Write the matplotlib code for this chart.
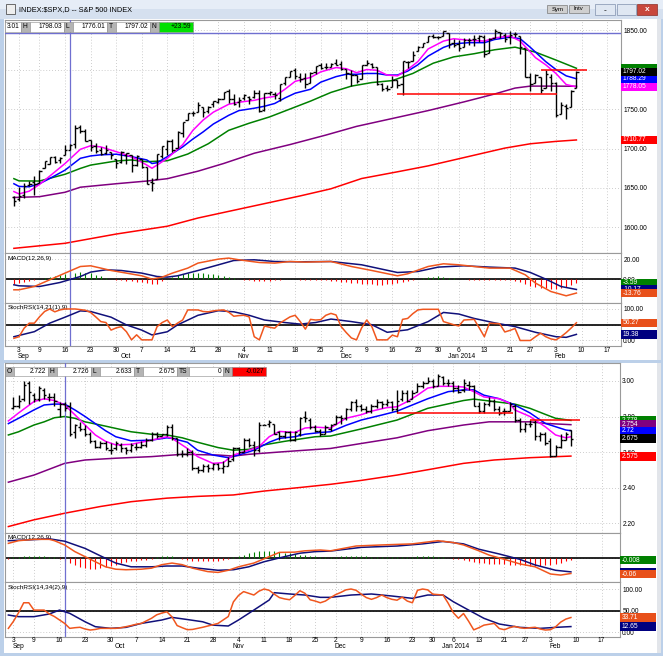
import numpy as np
import matplotlib
matplotlib.use('Agg')
import matplotlib.pyplot as plt
import matplotlib.transforms as mtransforms
from matplotlib.patches import Rectangle
from matplotlib.ticker import FuncFormatter

plt.rcParams['font.family'] = ['Liberation Sans', 'DejaVu Sans']

# trading-day index, 0 = Sep 3 2013
week_idx = [0, 4, 9, 14, 19, 24, 29, 34, 39, 44, 49, 54, 59, 63, 68, 73, 78, 82, 86, 91, 96, 100, 105, 110, 115]
week_lbl = ['3', '9', '16', '23', '30', '7', '14', '21', '28', '4', '11', '18', '25',
            '2', '9', '16', '23', '30', '6', '13', '21', '27', '3', '10', '17']
month_idx = [0, 20, 43, 63, 84, 105]
month_lbl = ['Sep', 'Oct', 'Nov', 'Dec', 'Jan 2014', 'Feb']

# ---------------- S&P 500 (Aug 30 2013 .. Feb 7 2014) ----------------
spx_open = [1638.9, 1635.9, 1640.7, 1653.3, 1657.4, 1656.9, 1675.1, 1681.0, 1689.2, 1685.0,
            1691.7, 1697.7, 1705.7, 1727.3, 1722.4, 1711.4, 1702.6, 1698.0, 1694.1, 1695.5,
            1687.3, 1682.4, 1691.9, 1692.4, 1678.8, 1687.2, 1676.2, 1657.0, 1660.9, 1691.1,
            1699.9, 1709.2, 1700.5, 1720.2, 1736.7, 1745.2, 1746.5, 1752.3, 1747.5, 1756.0,
            1759.4, 1762.9, 1772.3, 1763.2, 1758.7, 1763.4, 1765.7, 1765.0, 1770.7, 1748.4,
            1770.0, 1769.5, 1764.4, 1782.8, 1790.7, 1798.8, 1790.8, 1789.6, 1783.5, 1797.2,
            1806.3, 1802.9, 1803.5, 1808.0, 1806.6, 1800.1, 1794.1, 1792.8, 1788.4, 1806.2,
            1807.6, 1802.8, 1781.7, 1777.0, 1777.5, 1786.5, 1781.5, 1809.0, 1810.4, 1822.9,
            1828.0, 1835.0, 1843.0, 1841.5, 1842.6, 1845.9, 1833.2, 1832.3, 1828.7, 1837.9,
            1839.0, 1840.1, 1841.3, 1821.4, 1840.5, 1848.0, 1844.2, 1841.1, 1844.7, 1842.3,
            1827.0, 1791.0, 1783.0, 1790.2, 1777.2, 1790.9, 1782.7, 1743.8, 1753.4, 1753.0,
            1776.0]
spx_high = [1640.1, 1651.3, 1655.7, 1659.2, 1664.8, 1672.4, 1684.1, 1689.1, 1690.0, 1688.7,
            1705.0, 1705.5, 1729.4, 1729.9, 1725.2, 1711.4, 1707.6, 1701.7, 1703.9, 1695.5,
            1687.3, 1696.6, 1693.9, 1692.4, 1691.9, 1687.2, 1676.8, 1662.5, 1692.6, 1703.4,
            1711.0, 1711.6, 1721.8, 1733.4, 1745.3, 1747.8, 1759.3, 1752.3, 1753.9, 1759.8,
            1764.0, 1772.1, 1775.2, 1768.5, 1765.7, 1768.8, 1767.0, 1773.7, 1774.5, 1770.8,
            1773.4, 1771.8, 1782.0, 1791.0, 1798.2, 1802.3, 1795.5, 1795.7, 1797.2, 1804.8,
            1808.1, 1808.4, 1808.3, 1813.6, 1811.0, 1800.1, 1799.8, 1792.8, 1806.0, 1811.5,
            1808.5, 1803.0, 1783.0, 1780.9, 1792.2, 1786.8, 1811.1, 1810.9, 1823.8, 1829.8,
            1833.3, 1842.8, 1844.9, 1842.5, 1849.4, 1845.9, 1838.2, 1837.2, 1840.1, 1840.0,
            1843.2, 1843.2, 1843.5, 1839.3, 1850.8, 1848.0, 1846.0, 1849.3, 1846.9, 1842.3,
            1827.0, 1796.0, 1793.9, 1790.2, 1798.8, 1793.9, 1784.8, 1758.7, 1755.8, 1774.1,
            1798.0]
spx_low = [1627.5, 1633.4, 1637.4, 1653.1, 1640.6, 1656.9, 1675.1, 1681.0, 1682.0, 1682.2,
           1691.7, 1697.7, 1700.4, 1720.2, 1708.9, 1697.1, 1694.9, 1691.9, 1693.1, 1687.1,
           1675.0, 1682.1, 1680.3, 1670.4, 1677.3, 1674.7, 1655.0, 1646.5, 1660.9, 1688.5,
           1692.1, 1695.9, 1700.5, 1714.1, 1735.7, 1740.7, 1746.5, 1740.5, 1745.5, 1752.5,
           1757.7, 1762.9, 1757.2, 1755.7, 1752.7, 1761.1, 1755.8, 1764.4, 1746.2, 1747.6,
           1767.8, 1762.3, 1760.6, 1780.2, 1790.7, 1788.4, 1784.7, 1777.2, 1783.5, 1794.7,
           1800.6, 1800.8, 1802.8, 1805.8, 1799.8, 1787.9, 1779.1, 1783.4, 1788.4, 1806.2,
           1801.4, 1780.1, 1772.3, 1772.5, 1777.5, 1777.2, 1768.0, 1801.3, 1810.4, 1822.9,
           1828.0, 1835.0, 1839.8, 1838.8, 1842.4, 1827.7, 1829.1, 1823.7, 1828.7, 1831.4,
           1830.4, 1834.7, 1815.5, 1821.4, 1840.5, 1840.3, 1835.2, 1832.4, 1840.9, 1820.1,
           1790.3, 1772.9, 1783.0, 1770.5, 1777.2, 1772.3, 1739.7, 1743.8, 1737.9, 1753.0,
           1776.0]
spx_close = [1633.0, 1639.8, 1653.1, 1655.1, 1655.2, 1671.7, 1684.0, 1689.1, 1683.4, 1688.0,
             1697.6, 1704.8, 1725.5, 1722.3, 1709.9, 1701.8, 1697.4, 1692.8, 1698.7, 1691.8,
             1681.6, 1695.0, 1693.9, 1678.7, 1690.5, 1676.1, 1655.5, 1656.4, 1692.6, 1703.2,
             1710.1, 1698.1, 1721.5, 1733.2, 1744.5, 1744.7, 1754.7, 1746.4, 1752.1, 1759.8,
             1762.1, 1772.0, 1763.3, 1756.5, 1761.6, 1767.9, 1763.0, 1770.5, 1747.2, 1770.6,
             1771.9, 1767.7, 1782.0, 1790.6, 1798.2, 1791.5, 1787.9, 1781.4, 1795.9, 1804.8,
             1802.5, 1802.8, 1807.2, 1805.8, 1800.9, 1795.2, 1792.8, 1785.0, 1805.1, 1808.4,
             1802.6, 1782.2, 1775.5, 1775.3, 1786.5, 1781.0, 1810.7, 1809.6, 1818.3, 1828.0,
             1833.3, 1842.0, 1841.4, 1841.1, 1848.4, 1832.0, 1831.4, 1826.8, 1837.9, 1837.5,
             1838.1, 1842.4, 1819.2, 1838.9, 1848.4, 1845.9, 1838.7, 1843.8, 1844.9, 1828.5,
             1790.3, 1781.6, 1792.5, 1774.2, 1794.2, 1782.6, 1741.9, 1755.2, 1751.6, 1773.4,
             1797.0]
spx_idx = np.arange(-1, 110)

# moving averages (index, value)
spx_pink_i = [-1, 0, 2, 4, 6, 9, 12, 14, 16, 19, 22, 25, 26, 27, 29, 32, 34, 36, 38, 41, 43, 46, 48, 50,
              52, 54, 57, 59, 62, 64, 66, 68, 70, 72, 74, 76, 78, 80, 83, 85, 88, 91, 93, 96, 98, 100,
              101, 103, 105, 107, 109]
spx_pink = [1645.5, 1642.5, 1646, 1654.5, 1665, 1681, 1699, 1703.5, 1702, 1696, 1689.7, 1679, 1675,
            1679, 1687.6, 1704.8, 1723, 1736, 1746, 1756, 1758.6, 1761, 1764, 1766, 1775, 1785, 1790,
            1797, 1802.5, 1801, 1796, 1800, 1799, 1793, 1792, 1800, 1810, 1826, 1836, 1839, 1837,
            1836, 1840, 1842.5, 1836, 1822, 1815, 1806, 1795, 1781, 1778]
spx_blue = [1655.4, 1652, 1651.5, 1655.4, 1662, 1672.6, 1687.6, 1690.6, 1692, 1692.8, 1689.7, 1685.5,
            1681, 1682, 1689.7, 1702, 1712, 1721, 1731, 1742, 1748, 1751, 1753.5, 1757, 1764, 1770,
            1775, 1784, 1791, 1794, 1794, 1795, 1795, 1793, 1793, 1798, 1806, 1817, 1828, 1832.6,
            1834, 1834, 1838, 1841, 1839, 1828, 1822, 1810, 1800, 1792, 1788.3]
spx_green_i = [-1, 0, 4, 9, 12, 14, 19, 22, 25, 29, 33, 37, 41, 45, 49, 53, 57, 61, 65, 69, 73, 77,
               81, 85, 89, 93, 97, 101, 105, 109]
spx_green = [1661.8, 1659, 1658.8, 1667.4, 1674.8, 1679, 1684.2, 1685.5, 1683.3, 1684.5, 1693, 1706,
             1723, 1732, 1740, 1750, 1760, 1771, 1779, 1783.5, 1786, 1795, 1808, 1816, 1820, 1825,
             1828.3, 1822, 1812, 1801.6]
spx_purple_i = [-1, 4, 9, 12, 19, 25, 29, 35, 40, 46, 53, 60, 66, 73, 80, 87, 93, 97, 100, 104, 109]
spx_purple = [1638, 1639, 1644.6, 1651, 1655.4, 1658.8, 1661.8, 1671.3, 1681, 1694, 1705, 1717, 1728,
              1738, 1748, 1759, 1769, 1776.5, 1779, 1779, 1778.8]
spx_red_i = [-1, 9, 19, 29, 35, 45, 55, 61, 67, 74, 80, 85, 90, 95, 100, 105, 109]
spx_red = [1573.6, 1580, 1591.7, 1601.6, 1612, 1626, 1640, 1649, 1662, 1670.5, 1678, 1685.5, 1693,
           1700.5, 1706, 1709, 1710.8]

# drawn lines: (level, from index, to index)
spx_blue_level = 1846.6
spx_red_levels = [(1768.6, 74, 105.2), (1799.4, 102, 111)]
marker_idx = 10

# MACD(12,26,9)
spx_macd_i = [-1, 0, 3, 6, 9, 12, 14, 16, 18, 21, 24, 26, 28, 30, 33, 35, 39, 41, 43, 47, 50, 53, 56,
              61, 65, 69, 74, 76, 80, 83, 86, 89, 92, 96, 99, 101, 104, 107, 109]
spx_macd = [-10.5, -10.5, -7.2, -0.5, 6.2, 12.8, 13.5, 11.2, 8.8, 6.2, 3.5, 0.2, 2.2, 6.2, 11.2, 16.2,
            20.2, 21.2, 19.5, 16.8, 16.2, 17.8, 17.2, 17.8, 12.8, 8.8, 3.5, 5.5, 12.8, 15.5, 14.5,
            12.8, 11.2, 11.2, 4.5, -3.8, -12.2, -16.5, -13.76]
spx_sig_i = [-1, 0, 4, 8, 12, 14, 17, 20, 24, 27, 29, 31, 35, 39, 42, 46, 50, 55, 61, 67, 74, 78, 82,
             87, 92, 97, 100, 103, 106, 109]
spx_sig = [-5.5, -6.5, -7.2, -3.2, 2.8, 7.2, 9.5, 8.8, 6.2, 2.8, 2.2, 3.5, 8.8, 14.5, 18.8, 19.5, 17.8,
           17.5, 17.8, 14.5, 6.8, 7.8, 12.2, 13.5, 12.2, 11.2, 6.8, 0.2, -7.2, -10.17]
spx_hist = [-4.5, -4, -3, -2, -1, 0.5, 1.5, 2.5, 3.5, 4.5, 5.5, 6, 6.5, 7, 6.5, 6, 4.5, 3, 1.5, 0.5,
            -0.5, -1, -1.5, -2, -2.5, -3, -4, -5, -4.5, -2, 0.5, 2.5, 4, 5, 6, 6.5, 6.5, 6, 5.5, 5,
            4, 3, 2, 1, 0.5, -0.5, -1, -1.5, -2, -2, -1.5, -1, -0.5, 0, 0.3, 0, -0.5, -1, -1, -0.5,
            -0.5, -1, -1.5, -2, -2.5, -3, -3.5, -4, -4.5, -5, -5, -5.5, -5.5, -5, -4.5, -4, -2.5,
            -1.5, -0.5, 0.5, 1.5, 2, 2.5, 3, 2.5, 1.5, 1, 0.5, 0, -0.3, -0.5, -1, -1, -0.5, -0.5,
            -0.3, -0.5, -1, -1.5, -3, -5, -7, -8, -8.5, -9, -9.5, -9.5, -9, -8, -6, -3.59]

# StochRSI(14,21(1),9)
spx_stoch = [7, 12, 39, 55, 55, 75, 92, 100, 91, 97, 100, 100, 100, 98, 96, 89, 75, 60, 57, 33, 40,
             44, 28, 2, 18, 2, 2, 2, 44, 57, 65, 44, 55, 65, 97, 97, 97, 92, 91, 94, 96, 97, 90, 77,
             79, 80, 75, 12, 2, 46, 42, 39, 55, 65, 75, 80, 60, 36, 67, 65, 66, 80, 86, 81, 44, 25,
             8, 2, 40, 65, 44, 2, 2, 2, 17, 12, 67, 70, 85, 97, 99, 99, 99, 99, 60, 55, 50, 46, 65,
             66, 67, 40, 12, 55, 54, 53, 27, 32, 38, 0, 0, 0, 12, 23, 12, 5, 2, 12, 25, 40, 56.27]
spx_stsig_i = [-1, 3, 6, 9, 12, 14, 18, 21, 24, 26, 29, 31, 35, 39, 42, 45, 48, 52, 55, 58, 61, 65,
               69, 72, 76, 80, 83, 86, 89, 93, 97, 101, 105, 107, 109]
spx_stsig = [12, 28, 55, 74, 94, 92, 74, 49.5, 33, 17.6, 27.7, 49.5, 80, 94.6, 91, 80, 65, 57, 52, 57,
             68, 60, 50, 26, 34, 60, 89, 84, 70, 56, 44, 26, 12, 10, 19.38]

# ---------------- 10-year yield (Sep 3 2013 .. Feb 7 2014) ----------------
tnx_open = [2.85, 2.86, 2.90, 2.99, 2.92, 2.90, 2.95, 2.91, 2.91, 2.84,
            2.87, 2.86, 2.71, 2.74, 2.73, 2.70, 2.66, 2.63, 2.65, 2.61,
            2.62, 2.64, 2.62, 2.61, 2.63, 2.63, 2.64, 2.67, 2.70, 2.69,
            2.70, 2.74, 2.68, 2.59, 2.59, 2.60, 2.51, 2.50, 2.52, 2.51,
            2.53, 2.51, 2.52, 2.56, 2.62, 2.60, 2.67, 2.64, 2.61, 2.75,
            2.76, 2.76, 2.71, 2.69, 2.71, 2.67, 2.70, 2.80, 2.78, 2.74,
            2.72, 2.70, 2.73, 2.76, 2.80, 2.79, 2.84, 2.88, 2.86, 2.84,
            2.83, 2.86, 2.88, 2.87, 2.88, 2.84, 2.90, 2.93, 2.90, 2.94,
            2.97, 2.99, 3.00, 2.97, 3.02, 2.99, 2.99, 2.96, 2.95, 2.98,
            2.97, 2.86, 2.83, 2.87, 2.89, 2.84, 2.83, 2.83, 2.86, 2.78,
            2.73, 2.76, 2.77, 2.69, 2.70, 2.66, 2.58, 2.63, 2.67, 2.722]
tnx_high = [2.91, 2.92, 3.00, 3.00, 2.93, 2.97, 2.96, 2.93, 2.93, 2.88,
            2.88, 2.88, 2.76, 2.77, 2.75, 2.71, 2.67, 2.66, 2.66, 2.65,
            2.66, 2.65, 2.63, 2.65, 2.65, 2.66, 2.68, 2.71, 2.71, 2.70,
            2.75, 2.76, 2.68, 2.61, 2.62, 2.61, 2.52, 2.53, 2.53, 2.54,
            2.54, 2.55, 2.57, 2.63, 2.63, 2.68, 2.68, 2.66, 2.77, 2.76,
            2.78, 2.76, 2.72, 2.72, 2.72, 2.72, 2.80, 2.83, 2.79, 2.75,
            2.73, 2.75, 2.76, 2.81, 2.81, 2.85, 2.89, 2.90, 2.87, 2.86,
            2.87, 2.90, 2.89, 2.90, 2.89, 2.95, 2.95, 2.95, 2.95, 2.99,
            3.00, 3.02, 3.01, 3.04, 3.03, 3.01, 3.00, 2.98, 3.01, 3.00,
            2.98, 2.88, 2.88, 2.91, 2.90, 2.86, 2.85, 2.88, 2.87, 2.79,
            2.77, 2.78, 2.78, 2.71, 2.71, 2.68, 2.64, 2.70, 2.71, 2.726]
tnx_low = [2.84, 2.85, 2.89, 2.87, 2.88, 2.89, 2.90, 2.89, 2.86, 2.80,
           2.83, 2.69, 2.68, 2.72, 2.69, 2.65, 2.62, 2.62, 2.61, 2.59,
           2.61, 2.60, 2.59, 2.60, 2.61, 2.62, 2.63, 2.66, 2.68, 2.69,
           2.69, 2.67, 2.58, 2.57, 2.58, 2.50, 2.48, 2.49, 2.49, 2.50,
           2.50, 2.48, 2.52, 2.55, 2.59, 2.60, 2.63, 2.58, 2.60, 2.75,
           2.74, 2.70, 2.67, 2.68, 2.66, 2.66, 2.69, 2.77, 2.73, 2.71,
           2.69, 2.70, 2.72, 2.76, 2.76, 2.78, 2.83, 2.83, 2.83, 2.82,
           2.82, 2.85, 2.85, 2.86, 2.83, 2.82, 2.89, 2.88, 2.90, 2.94,
           2.96, 2.99, 2.96, 2.97, 2.98, 2.97, 2.94, 2.93, 2.94, 2.95,
           2.86, 2.82, 2.82, 2.86, 2.83, 2.81, 2.81, 2.83, 2.77, 2.71,
           2.71, 2.74, 2.67, 2.66, 2.64, 2.57, 2.58, 2.62, 2.67, 2.633]
tnx_close = [2.86, 2.89, 2.98, 2.94, 2.90, 2.96, 2.92, 2.91, 2.89, 2.87,
             2.85, 2.70, 2.75, 2.73, 2.70, 2.66, 2.63, 2.65, 2.62, 2.61,
             2.65, 2.62, 2.61, 2.64, 2.63, 2.64, 2.67, 2.70, 2.69, 2.70,
             2.74, 2.68, 2.59, 2.59, 2.60, 2.51, 2.50, 2.52, 2.51, 2.53,
             2.51, 2.52, 2.55, 2.62, 2.60, 2.67, 2.64, 2.61, 2.75, 2.75,
             2.77, 2.70, 2.69, 2.71, 2.67, 2.71, 2.79, 2.79, 2.74, 2.72,
             2.70, 2.74, 2.75, 2.80, 2.79, 2.84, 2.88, 2.86, 2.84, 2.83,
             2.86, 2.88, 2.87, 2.88, 2.84, 2.89, 2.93, 2.89, 2.93, 2.97,
             2.99, 3.00, 2.97, 3.03, 2.99, 2.99, 2.96, 2.94, 2.99, 2.97,
             2.86, 2.83, 2.87, 2.89, 2.84, 2.82, 2.83, 2.87, 2.78, 2.73,
             2.76, 2.76, 2.69, 2.70, 2.65, 2.58, 2.63, 2.67, 2.70, 2.675]
tnx_idx = np.arange(0, 110)

tnx_pink_i = [-1, 1, 4, 6, 8, 10, 12, 14, 16, 18, 20, 23, 25, 28, 30, 31, 34, 36, 39, 41, 43, 46, 48,
              50, 52, 55, 57, 59, 62, 65, 68, 70, 73, 75, 77, 79, 81, 83, 86, 88, 90, 92, 95, 97, 98,
              101, 104, 106, 108, 109]
tnx_pink = [2.775, 2.82, 2.884, 2.90, 2.89, 2.865, 2.81, 2.752, 2.696, 2.66, 2.64, 2.643, 2.655, 2.673,
            2.686, 2.677, 2.62, 2.574, 2.536, 2.54, 2.583, 2.61, 2.63, 2.686, 2.716, 2.71, 2.735,
            2.74, 2.735, 2.79, 2.81, 2.83, 2.85, 2.855, 2.884, 2.92, 2.96, 2.97, 2.97, 2.966, 2.94,
            2.91, 2.90, 2.875, 2.837, 2.80, 2.742, 2.696, 2.68, 2.686]
tnx_blue_i = [-1, 1, 4, 6, 8, 10, 12, 14, 16, 18, 20, 23, 27, 30, 31, 34, 36, 39, 42, 44, 47, 50, 52,
              55, 57, 60, 62, 65, 68, 72, 75, 78, 81, 85, 88, 90, 92, 95, 98, 101, 104, 108, 109]
tnx_blue = [2.76, 2.79, 2.837, 2.865, 2.87, 2.87, 2.837, 2.80, 2.76, 2.72, 2.686, 2.663, 2.667, 2.68,
            2.677, 2.655, 2.61, 2.583, 2.568, 2.583, 2.61, 2.655, 2.677, 2.686, 2.70, 2.71, 2.714,
            2.75, 2.78, 2.808, 2.83, 2.865, 2.90, 2.94, 2.95, 2.95, 2.92, 2.90, 2.865, 2.82, 2.761,
            2.724, 2.72]
tnx_green_i = [-1, 1, 4, 6, 8, 10, 12, 14, 17, 20, 23, 27, 30, 33, 36, 40, 43, 46, 49, 53, 56, 59, 62,
               68, 75, 81, 88, 90, 94, 98, 101, 104, 106, 109]
tnx_green = [2.696, 2.714, 2.752, 2.77, 2.793, 2.80, 2.79, 2.77, 2.752, 2.733, 2.714, 2.70, 2.696,
             2.68, 2.655, 2.625, 2.61, 2.615, 2.64, 2.66, 2.673, 2.686, 2.69, 2.73, 2.78, 2.846, 2.89,
             2.898, 2.884, 2.87, 2.846, 2.812, 2.79, 2.778]
tnx_purple_i = [-1, 4, 10, 14, 20, 27, 33, 40, 43, 46, 53, 62, 68, 75, 81, 88, 93, 97, 101, 104, 109]
tnx_purple = [2.43, 2.47, 2.536, 2.555, 2.565, 2.574, 2.587, 2.583, 2.577, 2.587, 2.602, 2.62, 2.648,
              2.68, 2.72, 2.752, 2.77, 2.77, 2.77, 2.761, 2.754]
tnx_red_i = [-1, 4, 10, 17, 23, 30, 36, 43, 49, 56, 62, 68, 75, 81, 88, 94, 101, 109]
tnx_red = [2.18, 2.218, 2.255, 2.293, 2.32, 2.34, 2.35, 2.358, 2.38, 2.40, 2.418, 2.44, 2.47, 2.50,
           2.536, 2.555, 2.568, 2.577]
tnx_red_levels = [(2.82, 75, 97.7), (2.78, 101, 110.8)]

tnx_macd_i = [-1, 1, 4, 7, 8, 10, 12, 14, 16, 18, 20, 22, 25, 27, 29, 31, 33, 35, 38, 40, 42, 44, 47,
              50, 52, 55, 57, 60, 62, 67, 72, 78, 83, 86, 88, 91, 93, 96, 99, 102, 105, 107, 109]
tnx_macd = [0.055, 0.065, 0.07, 0.07, 0.065, 0.049, 0.024, 0.005, -0.014, -0.033, -0.042, -0.044,
            -0.042, -0.038, -0.025, -0.019, -0.025, -0.038, -0.051, -0.054, -0.046, -0.033, -0.019,
            0.005, 0.021, 0.022, 0.027, 0.03, 0.027, 0.045, 0.049, 0.053, 0.065, 0.058, 0.049,
            0.027, 0.011, -0.005, -0.022, -0.033, -0.06, -0.064, -0.058]
tnx_sig_i = [-1, 3, 7, 10, 14, 17, 20, 23, 27, 30, 33, 36, 40, 43, 46, 49, 53, 56, 59, 62, 68, 75, 80,
             84, 88, 91, 95, 99, 102, 106, 109]
tnx_sig = [0.065, 0.068, 0.072, 0.063, 0.036, 0.008, -0.019, -0.033, -0.033, -0.03, -0.03, -0.038,
           -0.046, -0.044, -0.033, -0.014, 0.005, 0.018, 0.024, 0.026, 0.04, 0.045, 0.053, 0.062,
           0.053, 0.033, 0.015, -0.005, -0.026, -0.046, -0.052]
tnx_hist = [-0.005, 0.002, 0.005, 0.007, 0.008, 0.007, 0.006, 0.007, 0.005, 0.002, -0.005, -0.012,
            -0.02, -0.028, -0.034, -0.038, -0.04, -0.04, -0.038, -0.034, -0.03, -0.025, -0.02,
            -0.016, -0.013, -0.011, -0.009, -0.006, -0.002, 0.003, 0.007, 0.009, 0.006, 0.001,
            -0.004, -0.008, -0.012, -0.013, -0.012, -0.012, -0.011, -0.01, -0.007, -0.003, 0.003,
            0.008, 0.013, 0.017, 0.021, 0.025, 0.027, 0.028, 0.027, 0.024, 0.02, 0.017, 0.014,
            0.012, 0.011, 0.009, 0.007, 0.005, 0.004, 0.003, 0.004, 0.006, 0.008, 0.009, 0.008,
            0.007, 0.006, 0.005, 0.005, 0.004, 0.004, 0.003, 0.004, 0.005, 0.005, 0.005, 0.006,
            0.006, 0.007, 0.006, 0.005, 0.003, 0.001, -0.002, -0.004, -0.007, -0.01, -0.014,
            -0.017, -0.019, -0.021, -0.022, -0.023, -0.024, -0.025, -0.026, -0.027, -0.028,
            -0.029, -0.029, -0.029, -0.028, -0.027, -0.023, -0.018, -0.013, -0.008]

tnx_stoch = [8.5, 25, 45, 68, 68, 51, 51, 51, 42, 36, 28, 20, 8.5, 10, 11, 7, 4.6, 6, 8.5, 8.5, 8.5,
             8.5, 10, 12.4, 15, 18, 20, 26, 32, 40, 44, 47, 35, 15, 10, 5.4, 6, 8.5, 11, 14, 17, 20,
             28, 36, 70, 85, 94, 90, 86, 95, 100, 97, 88, 80, 77, 75, 85, 96, 90, 75, 72, 68, 72, 80,
             87, 92, 98, 100, 97, 88, 80, 76, 80, 86, 80, 76, 74, 81, 72, 68, 97, 100, 98, 88, 87,
             86, 67, 45, 32, 43, 25, 5, 10, 16, 18, 20, 8, 5.4, 10, 13, 10, 8.5, 10, 11, 7, 4.6, 5.4,
             12, 23, 30, 33.71]
tnx_stsig_i = [-1, 1, 4, 7, 9, 11, 14, 16, 19, 22, 25, 29, 31, 34, 37, 39, 42, 44, 47, 50, 51, 54, 57,
               60, 62, 66, 70, 74, 78, 81, 84, 86, 89, 92, 95, 99, 103, 106, 109]
tnx_stsig = [39.5, 35.7, 35.7, 41.9, 51, 43.4, 23.8, 12.4, 8.5, 10.8, 20, 27.9, 34, 29, 23.8, 16, 14,
             27.9, 51, 74.4, 91.5, 88.4, 86, 80.6, 80.6, 86, 88.4, 83.7, 78.3, 86, 86, 70.5, 51, 31.8,
             18.6, 10.8, 8.5, 10.8, 12.65]

# value boxes at the right edge, in drawing order (last one on top):
# (panel, value, text, colour); text None = box fully covered on screen
spx_boxes = [('p', 1801.6, None, '#008000'), ('p', 1788.29, '1788.29', '#0000ff'),
             ('p', 1778.05, '1778.05', '#ff00ff'), ('p', 1710.77, '1710.77', '#ff0000'),
             ('p', 1797.02, '1797.02', '#000000'),
             ('m', -3.59, '-3.59', '#008000'), ('m', -10.17, '-10.17', '#000080'),
             ('m', -13.76, '-13.76', '#e8501a'),
             ('s', 56.27, '56.27', '#e8501a'), ('s', 19.38, '19.38', '#000080')]
tnx_boxes = [('p', 2.778, '2.778', '#008000'), ('p', 2.754, '2.754', '#800080'),
             ('p', 2.72, '2.72', '#0000ff'), ('p', 2.575, '2.575', '#ff0000'),
             ('p', 2.675, '2.675', '#000000'),
             ('m', -0.008, '-0.008', '#008000'), ('m', -0.052, None, '#000080'),
             ('m', -0.06, '-0.06', '#e8501a'),
             ('s', 33.71, '33.71', '#e8501a'), ('s', 12.65, '12.65', '#000080')]

spx_header = [('', '3.01', None), ('H', '1798.03', None), ('L', '1776.01', None),
              ('T', '1797.02', None), ('N', '+23.59', '#00e000')]
tnx_header = [('O', '2.722', None), ('H', '2.726', None), ('L', '2.633', None),
              ('T', '2.675', None), ('TS', '0', None), ('N', '-0.027', '#ff0000')]

# ---------------- drawing ----------------
W, H = 663, 656
fig = plt.figure(figsize=(W / 100, H / 100), dpi=100)
fig.patch.set_facecolor('#bcd0e9')

ORANGE = '#f0561e'
NAVY = '#10107a'


def px_rect(x0, y0, x1, y1, color, z=-5, ec='none', lw=0):
    r = Rectangle((x0 / W, 1 - y1 / H), (x1 - x0) / W, (y1 - y0) / H, transform=fig.transFigure,
                  facecolor=color, edgecolor=ec, linewidth=lw, zorder=z)
    fig.add_artist(r)


def px_text(x, y, s, size=4.8, color='black', ha='left', z=6, **kw):
    fig.text(x / W, 1 - y / H, s, fontsize=size, color=color, ha=ha, va='center', zorder=z, **kw)


def px_axes(x0, y0, x1, y1):
    ax = fig.add_axes([x0 / W, 1 - y1 / H, (x1 - x0) / W, (y1 - y0) / H])
    for s in ax.spines.values():
        s.set_color('#9a9a9a')
        s.set_linewidth(0.8)
    return ax


def setup(ax, xlim, ylim, yticks, covered=()):
    # covered: tick values whose labels sit under a value box on screen
    ax.set_xlim(*xlim)
    ax.set_ylim(*ylim)
    ax.set_xticks(week_idx)
    ax.set_xticklabels([])
    ax.set_yticks(yticks)
    ax.yaxis.tick_right()
    ax.yaxis.set_major_formatter(
        FuncFormatter(lambda v, p: '' if any(abs(v - c) < 1e-9 for c in covered) else '%.2f' % v))
    ax.tick_params(axis='both', length=0, pad=1.6, labelsize=4.8)
    ax.grid(True, color='#bdbdbd', linestyle=(0, (1, 2.5)), linewidth=0.6)
    ax.set_axisbelow(True)


def draw_ohlc(ax, idx, o, h, l, c):
    ax.vlines(idx, l, h, color='black', lw=1.0, zorder=4)
    ax.hlines(o, idx - 0.45, idx, color='black', lw=1.0, zorder=4)
    ax.hlines(c, idx, idx + 0.45, color='black', lw=1.0, zorder=4)


def value_boxes(axes_map, boxes, x1):
    # each later box (with its text) covers the earlier ones, as on the screen
    for k, (panel, v, txt, col) in enumerate(boxes):
        ax = axes_map[panel]
        yc = H - ax.transData.transform((0, v))[1]
        px_rect(x1, yc - 4.2, x1 + 36, yc + 4.2, col, z=10 + 2 * k)
        if txt:
            px_text(x1 + 2, yc, txt, color='white', z=11 + 2 * k)


def header(cells, x0, y0, y1):
    x = x0
    for lab, val, col in cells:
        if lab:
            w = 6 + 3 * len(lab)
            px_rect(x, y0, x + w, y1, '#b4b4b4', z=2, ec='#8a8a8a', lw=0.4)
            px_text(x + 1.5, (y0 + y1) / 2, lab, z=3)
            x += w
        w = 34 if lab else 16
        px_rect(x, y0, x + w, y1, col or 'white', z=2, ec='#8a8a8a', lw=0.4)
        px_text(x + w - 1.5, (y0 + y1) / 2, val, ha='right', z=3)
        x += w


def date_row(ax, y_day, y_mon):
    tr = mtransforms.blended_transform_factory(ax.transData, fig.transFigure)
    for i, s in zip(week_idx, week_lbl):
        ax.text(i, 1 - y_day / H, s, transform=tr, ha='center', va='center', fontsize=4.8,
                clip_on=False)
    for i, s in zip(month_idx, month_lbl):
        ax.text(i - 0.2, 1 - y_mon / H, s, transform=tr, ha='left', va='center', fontsize=4.8,
                clip_on=False)


# window chrome
px_rect(0, 0, W, 9, '#e6edf7')
px_rect(0, 9, W, 19, '#d5e0ef')
px_rect(4, 19, 659, 360, 'white', z=-4)
px_rect(4, 363, 659, 653, 'white', z=-4)
px_rect(657, 19, 661, 360, '#e2e5ea', z=-3)
px_rect(657, 363, 661, 653, '#e2e5ea', z=-3)
px_rect(6, 4, 15, 14, '#eeeeee', z=-3, ec='#555555', lw=0.6)
px_text(19, 10, 'INDEX:$SPX,D -- S&P 500 INDEX', size=5.3)
for x0, x1, s in [(547, 567, 'Sym'), (569, 589, 'Intv')]:
    px_rect(x0, 5, x1, 13, '#cfcfcf', z=-3, ec='#7a7a7a', lw=0.5)
    px_text(x0 + 5, 9, s, size=4.3)
px_rect(595, 4, 615, 15, '#dfe7f2', z=-3, ec='#8091ad', lw=0.5)
px_rect(617, 4, 636, 15, '#dfe7f2', z=-3, ec='#8091ad', lw=0.5)
px_rect(637, 4, 657, 15, '#c8473c', z=-3, ec='#8a2d25', lw=0.5)
px_text(647, 9.5, 'x', size=6, color='white', ha='center', weight='bold')
px_text(605, 10.5, '-', size=6, ha='center')

# ---- top window: S&P 500 ----
xl1 = (-2.74, 117.72)
a1p = px_axes(5, 20, 621, 253)
a1m = px_axes(5, 253, 621, 303)
a1s = px_axes(5, 303, 621, 346)
setup(a1p, xl1, (1567.7, 1862.7), [1600, 1650, 1700, 1750, 1800, 1850], covered=(1800,))
setup(a1m, xl1, (-23.7, 26.3), [0, 20])
setup(a1s, xl1, (-17.5, 119), [0, 50, 100], covered=(50,))

a1p.axhline(spx_blue_level, color='#6f6fd0', lw=1.0, zorder=3)
for lvl, i0, i1 in spx_red_levels:
    a1p.hlines(lvl, i0, i1, color='#ff0000', lw=1.1, zorder=5)
a1p.plot(spx_red_i, spx_red, color='#ff0000', lw=1.1, zorder=3)
a1p.plot(spx_purple_i, spx_purple, color='#800080', lw=1.1, zorder=3)
a1p.plot(spx_green_i, spx_green, color='#008000', lw=1.1, zorder=3)
a1p.plot(spx_pink_i, spx_blue, color='#0000ff', lw=1.1, zorder=3)
a1p.plot(spx_pink_i, spx_pink, color='#ff00ff', lw=1.1, zorder=3)
draw_ohlc(a1p, spx_idx, np.array(spx_open), np.array(spx_high), np.array(spx_low), np.array(spx_close))

a1m.axhline(0, color='black', lw=1.2, zorder=2)
hist = np.array(spx_hist)
a1m.vlines(spx_idx, 0, hist, colors=np.where(hist >= 0, '#008000', '#ff0000'), lw=0.8, zorder=3)
a1m.plot(spx_sig_i, spx_sig, color=NAVY, lw=1.1, zorder=4)
a1m.plot(spx_macd_i, spx_macd, color=ORANGE, lw=1.1, zorder=4)
a1m.text(0.004, 0.9, 'MACD(12,26,9)', transform=a1m.transAxes, fontsize=4.6, va='center')

a1s.axhline(50, color='black', lw=1.2, zorder=2)
a1s.plot(spx_stsig_i, spx_stsig, color=NAVY, lw=1.1, zorder=4)
a1s.plot(spx_idx, spx_stoch, color=ORANGE, lw=1.1, zorder=4)
a1s.text(0.004, 0.89, 'StochRSI(14,21(1),9)', transform=a1s.transAxes, fontsize=4.6, va='center')

for a in (a1p, a1m, a1s):
    a.axvline(marker_idx, color='#6f6fd0', lw=0.9, zorder=3)
date_row(a1s, 350, 356)
header(spx_header, 5, 22, 31.5)
value_boxes({'p': a1p, 'm': a1m, 's': a1s}, spx_boxes, 621)

# ---- bottom window: 10-year yield ----
xl2 = (-1.66, 118.6)
a2p = px_axes(5, 363, 620, 533)
a2m = px_axes(5, 533, 620, 582)
a2s = px_axes(5, 582, 620, 637)
setup(a2p, xl2, (2.1437, 3.1014), [2.2, 2.4, 2.6, 2.8, 3.0])
setup(a2m, xl2, (-0.09, 0.0938), [0], covered=(0,))
setup(a2s, xl2, (-11.6, 116.3), [0, 50, 100])

for lvl, i0, i1 in tnx_red_levels:
    a2p.hlines(lvl, i0, i1, color='#ff0000', lw=1.1, zorder=5)
a2p.plot(tnx_red_i, tnx_red, color='#ff0000', lw=1.1, zorder=3)
a2p.plot(tnx_purple_i, tnx_purple, color='#800080', lw=1.1, zorder=3)
a2p.plot(tnx_green_i, tnx_green, color='#008000', lw=1.1, zorder=3)
a2p.plot(tnx_blue_i, tnx_blue, color='#0000ff', lw=1.1, zorder=3)
a2p.plot(tnx_pink_i, tnx_pink, color='#ff00ff', lw=1.1, zorder=3)
draw_ohlc(a2p, tnx_idx, np.array(tnx_open), np.array(tnx_high), np.array(tnx_low), np.array(tnx_close))

a2m.axhline(0, color='black', lw=1.2, zorder=2)
hist2 = np.array(tnx_hist)
a2m.vlines(np.arange(-1, 110), 0, hist2, colors=np.where(hist2 >= 0, '#008000', '#ff0000'), lw=0.8,
           zorder=3)
a2m.plot(tnx_sig_i, tnx_sig, color=NAVY, lw=1.1, zorder=4)
a2m.plot(tnx_macd_i, tnx_macd, color=ORANGE, lw=1.1, zorder=4)
a2m.text(0.004, 0.9, 'MACD(12,26,9)', transform=a2m.transAxes, fontsize=4.6, va='center')

a2s.axhline(50, color='black', lw=1.2, zorder=2)
a2s.plot(tnx_stsig_i, tnx_stsig, color=NAVY, lw=1.1, zorder=4)
a2s.plot(np.arange(-1, 110), tnx_stoch, color=ORANGE, lw=1.1, zorder=4)
a2s.text(0.004, 0.9, 'StochRSI(14,34(2),9)', transform=a2s.transAxes, fontsize=4.6, va='center')

for a in (a2p, a2m, a2s):
    a.axvline(marker_idx, color='#6f6fd0', lw=0.9, zorder=3)
date_row(a2s, 641, 647)
header(tnx_header, 5, 367.5, 376)
value_boxes({'p': a2p, 'm': a2m, 's': a2s}, tnx_boxes, 620)

fig.savefig('out.png', dpi=100, facecolor=fig.get_facecolor())
